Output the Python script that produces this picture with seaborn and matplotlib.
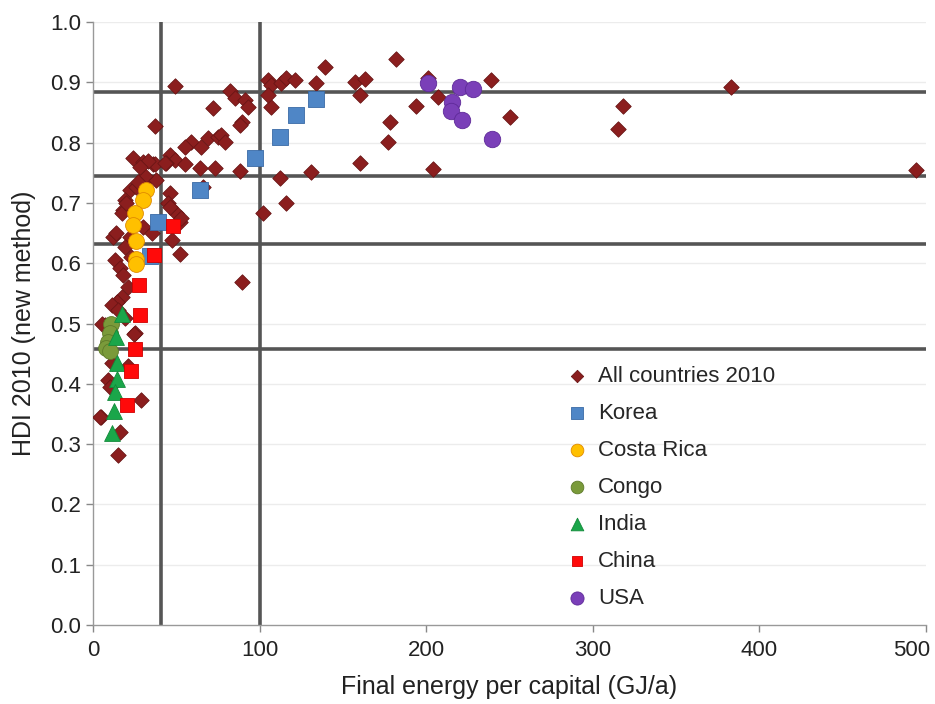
import numpy as np
import pandas as pd
import seaborn as sns
import matplotlib.pyplot as plt
from matplotlib.transforms import ScaledTranslation

# values: final energy (GJ/a) and HDI
all_x = [383, 318, 315, 494, 239, 250, 201, 207, 194, 182, 157, 163, 160, 178, 177, 160, 204,
         139, 134, 131, 105, 107, 113, 116, 121, 107, 105, 112, 116, 102, 89.5, 88,
         49, 82, 85, 91, 93, 72, 89.5, 88, 37, 59, 55, 65, 69, 75, 77, 79,
         46, 49, 44, 55, 64, 73, 66, 46, 45, 50, 52, 53, 52,
         36, 24, 30, 37, 43, 32, 22, 38, 19, 26, 46, 18, 31,
         17.5, 30, 35.5, 12, 22, 47.5, 19, 13, 16, 18, 17.5, 14.5, 11.5, 15, 7, 25, 19,
         24.6, 21, 29, 5, 16, 15, 9, 11.6, 10, 4, 5.4, 20, 27, 33, 28, 21, 23, 14]
all_y = [0.892, 0.861, 0.823, 0.755, 0.904, 0.842, 0.907, 0.876, 0.861, 0.939, 0.900, 0.905,
         0.879, 0.834, 0.801, 0.766, 0.756,
         0.925, 0.899, 0.751, 0.904, 0.896, 0.899, 0.907, 0.904, 0.859, 0.879, 0.741, 0.700,
         0.683, 0.569, 0.753,
         0.894, 0.886, 0.874, 0.871, 0.859, 0.857, 0.834, 0.829, 0.827, 0.801, 0.793, 0.793,
         0.807, 0.810, 0.812, 0.801,
         0.779, 0.771, 0.766, 0.764, 0.758, 0.758, 0.726, 0.716, 0.700, 0.683, 0.668, 0.675,
         0.615,
         0.765, 0.774, 0.768, 0.764, 0.766, 0.738, 0.721, 0.738, 0.705, 0.726, 0.693, 0.688,
         0.745,
         0.683, 0.660, 0.650, 0.643, 0.643, 0.638, 0.627, 0.605, 0.592, 0.580, 0.544, 0.536,
         0.531, 0.522, 0.498, 0.484, 0.509,
         0.483, 0.430, 0.373, 0.345, 0.320, 0.282, 0.406, 0.434, 0.395, 0.345, 0.500, 0.700,
         0.735, 0.770, 0.760, 0.560, 0.610, 0.650]

korea_x = [134, 122, 112, 97, 64, 39, 34]
korea_y = [0.872, 0.846, 0.810, 0.774, 0.721, 0.668, 0.612]

costa_x = [32, 30, 25, 24, 26, 26, 26]
costa_y = [0.722, 0.704, 0.684, 0.664, 0.637, 0.607, 0.598]

congo_x = [11, 10, 9, 8, 10]
congo_y = [0.500, 0.485, 0.470, 0.460, 0.455]

india_x = [17.5, 14, 14.5, 14.5, 13, 12.5, 11.5]
india_y = [0.516, 0.478, 0.434, 0.408, 0.386, 0.355, 0.318]

china_x = [48, 36.6, 27.6, 28, 25, 23, 20.4]
china_y = [0.662, 0.614, 0.564, 0.514, 0.458, 0.421, 0.365]

usa_x = [201, 220, 228, 215.5, 215, 221.5, 239.5]
usa_y = [0.899, 0.892, 0.889, 0.867, 0.852, 0.837, 0.806]

h_lines = [0.884, 0.745, 0.632, 0.458]
v_lines = [41, 100]

sns.set_style("white")
plt.rcParams['font.family'] = ['Liberation Sans', 'DejaVu Sans']

fig = plt.figure(figsize=(9.35, 7.04), dpi=100)
ax = fig.add_axes([93 / 935, 1 - 625 / 704, 833 / 935, 603 / 704])

# faint grid
for v in np.arange(0.1, 1.01, 0.1):
    ax.axhline(v, color="#ececec", lw=1, zorder=0)

for v in h_lines:
    ax.axhline(v, color="#555555", lw=2.6, zorder=1)
for v in v_lines:
    ax.axvline(v, color="#555555", lw=2.6, zorder=1)

series = [
    ("All countries 2010", all_x, all_y, "D", "#8b1e1e", "#6a1515", 62),
    ("Korea", korea_x, korea_y, "s", "#4f86c6", "#3a6aa6", 135),
    ("Costa Rica", costa_x, costa_y, "o", "#ffc000", "#e08a00", 130),
    ("Congo", congo_x, congo_y, "o", "#7a9a3a", "#5e7a2a", 130),
    ("India", india_x, india_y, "^", "#1aa64a", "#128a3a", 130),
    ("China", china_x, china_y, "s", "#ff0a0a", "#d00000", 95),
    ("USA", usa_x, usa_y, "o", "#7a3fb8", "#5e2a98", 140),
]

for name, xs, ys, m, c, ec, s in series:
    df = pd.DataFrame({"x": xs, "y": ys})
    sns.scatterplot(data=df, x="x", y="y", marker=m, color=c, edgecolor=ec,
                    linewidth=0.6, s=s, label=name, ax=ax, zorder=3)

ax.set_xlim(0, 500)
ax.set_ylim(0, 1.0)
ax.set_xticks([0, 100, 200, 300, 400, 500])
ax.set_yticks(np.arange(0, 1.01, 0.1))
ax.set_yticklabels([f"{v:.1f}" for v in np.arange(0, 1.01, 0.1)])
ax.tick_params(axis="both", labelsize=16, length=5, width=1, direction="out",
               left=True, bottom=True, colors="#888888", labelcolor="#222222")
ax.tick_params(axis="x", pad=6)
ax.set_xlabel("Final energy per capital (GJ/a)", fontsize=18, color="#222222", labelpad=10)
ax.set_ylabel("HDI 2010 (new method)", fontsize=18, color="#222222", labelpad=10)

# last x label sits a bit inside the figure edge
last = ax.get_xticklabels()[-1]
last.set_transform(last.get_transform() + ScaledTranslation(-0.14, 0, fig.dpi_scale_trans))

for sp in ["top", "right"]:
    ax.spines[sp].set_visible(False)
for sp in ["left", "bottom"]:
    ax.spines[sp].set_color("#999999")
    ax.spines[sp].set_linewidth(1)

ax.legend(loc="lower left", bbox_to_anchor=(0.557, 0.012), frameon=False,
          borderaxespad=0, fontsize=16, labelspacing=0.72, handlelength=1.0,
          handletextpad=0.45, markerscale=0.8)

fig.savefig("out.png", dpi=100)
